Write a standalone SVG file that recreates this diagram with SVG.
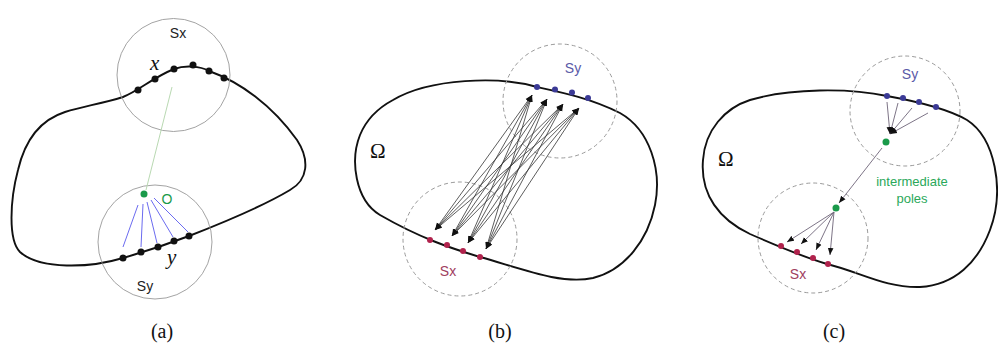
<svg xmlns="http://www.w3.org/2000/svg" width="998" height="347" viewBox="0 0 998 347">
<style>
.bd{fill:none;stroke:#111;stroke-width:1.9}
.cs{fill:none;stroke:#999;stroke-width:0.9}
.cd{fill:none;stroke:#9a9a9a;stroke-width:1;stroke-dasharray:4 3}
.lbl{font-family:"Liberation Sans",Arial,sans-serif;font-size:14px}
.it{font-family:"Liberation Serif","Times New Roman",serif;font-style:italic;font-size:21px;fill:#111}
.om{font-family:"Liberation Serif","Times New Roman",serif;font-size:21px;fill:#111}
.cap{font-family:"Liberation Serif","Times New Roman",serif;font-size:20px;fill:#111;text-anchor:middle}
.ar{stroke:#333;stroke-width:0.8;fill:none}
.bl{fill:#3b3a96}
.rd{fill:#b0224c}
.bk{fill:#111}
.gr{fill:#1a9a4a}
</style>
<defs>
<marker id="ah" viewBox="0 0 10 10" refX="10" refY="5" markerWidth="7" markerHeight="7" markerUnits="userSpaceOnUse" orient="auto-start-reverse">
<path d="M0,1 L10,5 L0,9 z" fill="#111"/>
</marker>
</defs>

<!-- Panel (a) -->
<g id="panel-a">
<path class="bd" d="M 123 97 C 140 90 152 78 174 69 C 185 65 200 66 209 71 C 240 82 272 105 297 140 C 310 160 308 180 290 190 C 265 205 230 220 189 236 C 160 247 130 256 123 258 C 90 268 40 270 20 252 C 8 240 10 200 18 170 C 25 140 40 120 65 112 C 85 106 100 104 123 97 Z"/>
<circle class="cs" cx="173.5" cy="75" r="56.5"/>
<circle class="cs" cx="155" cy="242" r="57"/>
<line x1="146" y1="190" x2="172" y2="87" stroke="#b9d9b2" stroke-width="1"/>
<g stroke="#6b6bf0" stroke-width="1">
<line x1="123" y1="247" x2="138" y2="205"/>
<line x1="141" y1="247" x2="143" y2="204"/>
<line x1="157" y1="243" x2="147" y2="202"/>
<line x1="173" y1="237" x2="151" y2="200"/>
<line x1="188" y1="232" x2="154" y2="198"/>
</g>
<g class="bk">
<circle cx="138" cy="90" r="3.5"/><circle cx="155" cy="79" r="3.5"/><circle cx="174" cy="69" r="3.5"/>
<circle cx="193" cy="65" r="3.5"/><circle cx="209" cy="71" r="3.5"/><circle cx="224" cy="78" r="3.5"/>
<circle cx="123" cy="258" r="3.5"/><circle cx="141" cy="252" r="3.5"/><circle cx="158" cy="247" r="3.5"/>
<circle cx="174" cy="241" r="3.5"/><circle cx="189" cy="236" r="3.5"/>
</g>
<circle class="gr" cx="144" cy="194" r="3.5"/>
<text class="lbl" x="178" y="38" text-anchor="middle" fill="#222">Sx</text>
<text class="it" x="150" y="70">x</text>
<text class="lbl" x="145" y="291" text-anchor="middle" fill="#222">Sy</text>
<text class="it" x="167" y="264">y</text>
<text class="lbl" x="167" y="204" text-anchor="middle" fill="#1a9a4a">O</text>
<text class="cap" x="162" y="338">(a)</text>
</g>

<!-- Panel (b) -->
<g id="panel-b">
<path class="bd" d="M 393 100 C 430 78 500 76 537 87 C 560 92 590 98 620 113 C 650 130 662 170 655 205 C 648 240 625 270 593 278 C 560 285 520 268 480 257 C 450 248 420 238 380 215 C 355 200 350 160 360 135 C 367 118 378 108 393 100 Z"/>
<circle class="cd" cx="560" cy="101" r="57"/>
<circle class="cd" cx="460" cy="239" r="57"/>
<text class="om" x="370" y="158">Ω</text>
<text class="lbl" x="573" y="73" text-anchor="middle" fill="#5a5aa8">Sy</text>
<text class="lbl" x="448" y="276" text-anchor="middle" fill="#a04060">Sx</text>
<g class="bl">
<circle cx="537" cy="87" r="3"/><circle cx="555" cy="89.5" r="3"/><circle cx="572" cy="92.5" r="3"/><circle cx="588" cy="98" r="3"/>
</g>
<g class="rd">
<circle cx="430" cy="240" r="3"/><circle cx="447" cy="245" r="3"/><circle cx="463" cy="251" r="3"/><circle cx="480" cy="257" r="3"/>
</g>
<text class="cap" x="500" y="338">(b)</text>
</g>

<!-- Panel (c) -->
<g id="panel-c">
<path class="bd" d="M 750 100 C 790 88 850 88 887 96 C 920 102 950 110 967 120 C 995 138 1005 190 990 230 C 978 262 955 285 920 287 C 885 288 860 272 827 264 C 800 256 775 245 750 234 C 720 220 700 195 703 160 C 705 130 725 108 750 100 Z"/>
<circle class="cd" cx="905" cy="111" r="55"/>
<circle class="cd" cx="813" cy="238" r="55"/>
<text class="om" x="718" y="166">Ω</text>
<text class="lbl" x="910" y="79" text-anchor="middle" fill="#5a5aa8">Sy</text>
<text class="lbl" x="798" y="279" text-anchor="middle" fill="#a04060">Sx</text>
<text class="lbl" x="912" y="186" text-anchor="middle" fill="#2aa85a" style="font-size:13px">intermediate</text>
<text class="lbl" x="912" y="203" text-anchor="middle" fill="#2aa85a" style="font-size:13px">poles</text>
<g class="bl">
<circle cx="887" cy="96" r="3"/><circle cx="903" cy="98" r="3"/><circle cx="919" cy="102" r="3"/><circle cx="936" cy="107" r="3"/>
</g>
<g class="rd">
<circle cx="781" cy="246" r="3"/><circle cx="797" cy="252" r="3"/><circle cx="813" cy="258" r="3"/><circle cx="828" cy="264" r="3"/>
</g>
<circle class="gr" cx="886" cy="142" r="3.5"/>
<circle class="gr" cx="836" cy="208" r="3.5"/>
<text class="cap" x="834" y="338">(c)</text>
</g>

<!-- Connectors -->
<g id="connectors">
<g class="ar" marker-start="url(#ah)" marker-end="url(#ah)">
<line x1="435" y1="230" x2="532" y2="95"/><line x1="435" y1="230" x2="547" y2="99"/><line x1="435" y1="230" x2="563" y2="104"/><line x1="435" y1="230" x2="579" y2="108"/>
<line x1="452" y1="236" x2="532" y2="95"/><line x1="452" y1="236" x2="547" y2="99"/><line x1="452" y1="236" x2="563" y2="104"/><line x1="452" y1="236" x2="579" y2="108"/>
<line x1="468" y1="243" x2="532" y2="95"/><line x1="468" y1="243" x2="547" y2="99"/><line x1="468" y1="243" x2="563" y2="104"/><line x1="468" y1="243" x2="579" y2="108"/>
<line x1="486" y1="249" x2="532" y2="95"/><line x1="486" y1="249" x2="547" y2="99"/><line x1="486" y1="249" x2="563" y2="104"/><line x1="486" y1="249" x2="579" y2="108"/>
</g>
<g stroke="#6e6478" stroke-width="0.9" fill="none">
<line x1="887" y1="102" x2="890" y2="134" marker-end="url(#ah)"/>
<line x1="898" y1="103" x2="890" y2="134" marker-end="url(#ah)"/>
<line x1="912" y1="108" x2="890" y2="134" marker-end="url(#ah)"/>
<line x1="928" y1="113" x2="890" y2="134" marker-end="url(#ah)"/>
<line x1="882" y1="148" x2="839" y2="203" marker-end="url(#ah)"/>
<line x1="834" y1="212" x2="787" y2="242" marker-end="url(#ah)"/>
<line x1="834" y1="212" x2="801" y2="244" marker-end="url(#ah)"/>
<line x1="834" y1="212" x2="816" y2="250" marker-end="url(#ah)"/>
<line x1="834" y1="212" x2="830" y2="255" marker-end="url(#ah)"/>
</g>
</g>
</svg>
